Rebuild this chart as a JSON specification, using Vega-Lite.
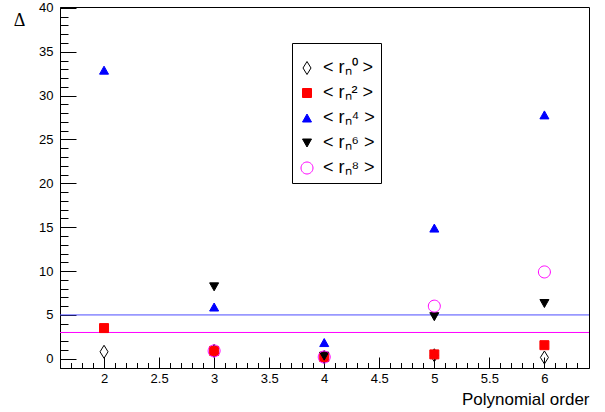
{
  "$schema": "https://vega.github.io/schema/vega-lite/v6.json",
  "width": 529,
  "height": 361,
  "autosize": {"type": "none"},
  "padding": {"left": 60, "top": 7, "right": 16, "bottom": 44},
  "background": "white",
  "config": {
    "view": {"stroke": "black", "strokeWidth": 1},
    "font": "Liberation Sans",
    "axis": {"grid": false, "domainColor": "black", "tickColor": "black", "labelColor": "black", "titleColor": "black", "labelFont": "Liberation Sans", "titleFontWeight": "normal"},
    "legend": {"orient": "none", "legendX": 232, "legendY": 36, "strokeColor": "black", "fillColor": "white", "padding": 6, "labelFontSize": 18, "labelFont": "Liberation Sans", "labelColor": "black", "rowPadding": 7, "labelOffset": 7, "symbolStrokeWidth": 1, "symbolSize": 100, "titleFontSize": 6, "titlePadding": 4}
  },
  "encoding": {
    "y": {
      "field": "delta", "type": "quantitative",
      "scale": {"domain": [-1.05, 40.1], "nice": false, "zero": false},
      "axis": {
        "values": [0,1,2,3,4,5,6,7,8,9,10,11,12,13,14,15,16,17,18,19,20,21,22,23,24,25,26,27,28,29,30,31,32,33,34,35,36,37,38,39,40],
        "labelExpr": "datum.value % 5 == 0 ? datum.label : ''",
        "tickSize": {"condition": {"test": "datum.value % 5 == 0", "value": -16}, "value": -8},
        "labelOverlap": false, "labelFlush": false,
        "labelFontSize": 13, "labelPadding": 23,
        "title": "Δ", "titleAngle": 0, "titleFont": "Liberation Serif", "titleFontSize": 18,
        "titleX": -41, "titleY": 13, "titleAlign": "center", "titleBaseline": "middle"
      }
    }
  },
  "layer": [
    {
      "data": {"values": [{"delta": 5}]},
      "mark": {"type": "rule", "color": "#4d4dff", "strokeWidth": 1},
      "encoding": {}
    },
    {
      "data": {"values": [{"delta": 3}]},
      "mark": {"type": "rule", "color": "#ff00ff", "strokeWidth": 1},
      "encoding": {}
    },
    {
      "data": {"values": [
        {"order": 2, "delta": 0.8, "s": "< rₙ⁰ >"},
        {"order": 3, "delta": 0.9, "s": "< rₙ⁰ >"},
        {"order": 4, "delta": 0.2, "s": "< rₙ⁰ >"},
        {"order": 5, "delta": 0.4, "s": "< rₙ⁰ >"},
        {"order": 6, "delta": 0.15, "s": "< rₙ⁰ >"},
        {"order": 2, "delta": 3.5, "s": "< rₙ² >"},
        {"order": 3, "delta": 0.9, "s": "< rₙ² >"},
        {"order": 4, "delta": 0.2, "s": "< rₙ² >"},
        {"order": 5, "delta": 0.5, "s": "< rₙ² >"},
        {"order": 6, "delta": 1.55, "s": "< rₙ² >"},
        {"order": 2, "delta": 32.9, "s": "< rₙ⁴ >"},
        {"order": 3, "delta": 5.9, "s": "< rₙ⁴ >"},
        {"order": 4, "delta": 1.85, "s": "< rₙ⁴ >"},
        {"order": 5, "delta": 14.9, "s": "< rₙ⁴ >"},
        {"order": 6, "delta": 27.8, "s": "< rₙ⁴ >"},
        {"order": 3, "delta": 8.2, "s": "< rₙ⁶ >"},
        {"order": 4, "delta": 0.3, "s": "< rₙ⁶ >"},
        {"order": 5, "delta": 4.8, "s": "< rₙ⁶ >"},
        {"order": 6, "delta": 6.3, "s": "< rₙ⁶ >"},
        {"order": 3, "delta": 0.9, "s": "< rₙ⁸ >"},
        {"order": 4, "delta": 0.2, "s": "< rₙ⁸ >"},
        {"order": 5, "delta": 6.0, "s": "< rₙ⁸ >"},
        {"order": 6, "delta": 9.9, "s": "< rₙ⁸ >"}
      ]},
      "mark": {"type": "point", "filled": true, "opacity": 1, "strokeWidth": 1, "size": 100},
      "encoding": {
        "x": {
          "field": "order", "type": "quantitative",
          "scale": {"domain": [1.6, 6.405], "nice": false, "zero": false},
          "axis": {
            "values": [1.7,1.8,1.9,2,2.1,2.2,2.3,2.4,2.5,2.6,2.7,2.8,2.9,3,3.1,3.2,3.3,3.4,3.5,3.6,3.7,3.8,3.9,4,4.1,4.2,4.3,4.4,4.5,4.6,4.7,4.8,4.9,5,5.1,5.2,5.3,5.4,5.5,5.6,5.7,5.8,5.9,6,6.1,6.2,6.3],
            "format": "~g",
            "labelExpr": "abs(datum.value*2 - round(datum.value*2)) < 0.001 ? datum.label : ''",
            "tickSize": {"condition": {"test": "abs(datum.value*2 - round(datum.value*2)) < 0.001", "value": -11}, "value": -5.5},
            "labelOverlap": false, "labelFlush": false,
            "labelFontSize": 13, "labelPadding": 15,
            "title": "Polynomial order", "titleFontSize": 17, "titleFont": "Liberation Sans",
            "titleX": 529, "titleY": 36, "titleAlign": "right", "titleBaseline": "alphabetic"
          }
        },
        "shape": {"field": "s", "type": "nominal",
          "scale": {"domain": ["< rₙ⁰ >", "< rₙ² >", "< rₙ⁴ >", "< rₙ⁶ >", "< rₙ⁸ >"], "range": ["M0,-1.3L0.8,0L0,1.3L-0.8,0Z", "M-0.9,-0.9L0.9,-0.9L0.9,0.9L-0.9,0.9Z", "M0,-0.8L0.9,0.8L-0.9,0.8Z", "M0,0.8L0.9,-0.8L-0.9,-0.8Z", "M1.2,0A1.2,1.2,0,1,1,-1.2,0A1.2,1.2,0,1,1,1.2,0Z"]},
          "legend": {"title": " "}},
        "fill": {"field": "s", "type": "nominal",
          "scale": {"domain": ["< rₙ⁰ >", "< rₙ² >", "< rₙ⁴ >", "< rₙ⁶ >", "< rₙ⁸ >"], "range": ["transparent", "#ff0000", "#0000ff", "#000000", "transparent"]},
          "legend": {"title": " "}},
        "stroke": {"field": "s", "type": "nominal",
          "scale": {"domain": ["< rₙ⁰ >", "< rₙ² >", "< rₙ⁴ >", "< rₙ⁶ >", "< rₙ⁸ >"], "range": ["#000000", "#ff0000", "#0000ff", "#000000", "#ff00ff"]},
          "legend": {"title": " "}}
      }
    }
  ]
}
